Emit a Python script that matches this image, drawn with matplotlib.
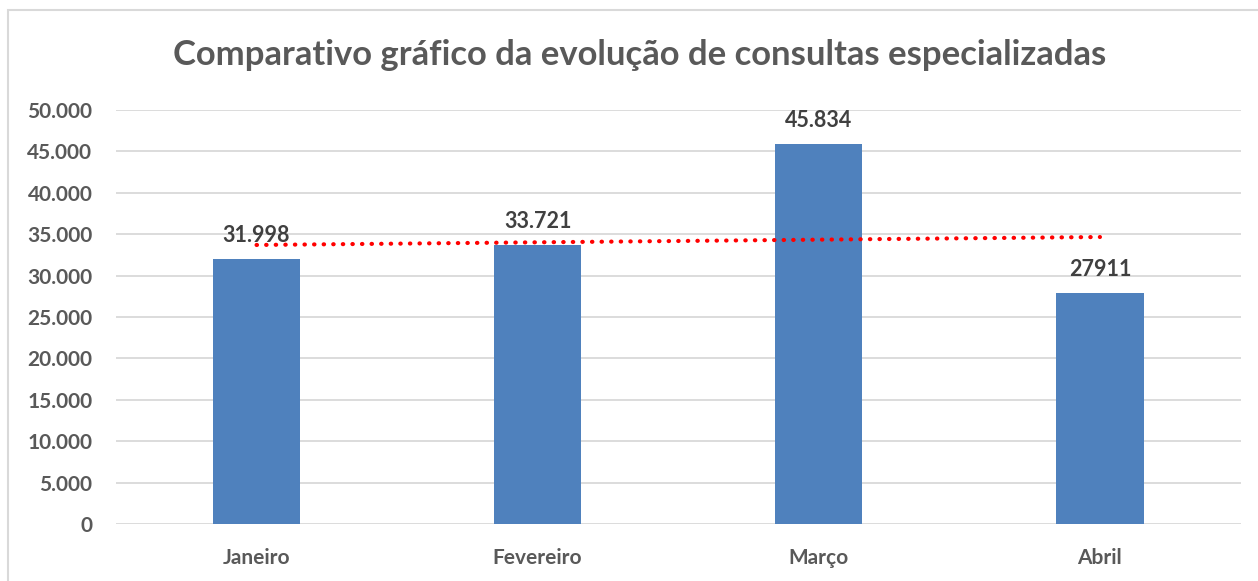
# bar chart of specialized consultations per month, with dotted trend line
import matplotlib.pyplot as plt
from matplotlib.patches import Rectangle
from matplotlib.ticker import FuncFormatter

months = ['Janeiro', 'Fevereiro', 'Março', 'Abril']
consultas = [31998, 33721, 45834, 27911]
labels = ['31.998', '33.721', '45.834', '27911']
# trend line (start at Janeiro, end at Abril)
trend_start = 33700
trend_end = 34660

plt.rcParams['font.family'] = ['Lato', 'DejaVu Sans']

fig = plt.figure(figsize=(12.58, 5.81), dpi=100)
ax = fig.add_axes([116/1258, 1-524/581, (1240.5-116)/1258, (524-110)/581])

x = range(len(months))
ax.bar(x, consultas, width=0.31, color='#4f81bd', zorder=2)

# trend line
ax.plot([0, 3], [trend_start, trend_end], color='#ff0000', linestyle=(0, (0.1, 2.2)),
        linewidth=3, dash_capstyle='round', zorder=3)

# data labels
for i in x:
	ax.annotate(labels[i], (i, consultas[i]), xytext=(0, 17), textcoords='offset points',
	            ha='center', va='center', fontsize=15.5, fontweight='bold', color='#404040')

ax.set_xlim(-0.5, 3.5)
ax.set_ylim(0, 50000)
ax.set_yticks(range(0, 50001, 5000))
ax.yaxis.set_major_formatter(FuncFormatter(lambda v, p: f'{int(v):,}'.replace(',', '.')))
ax.set_xticks(list(x))
ax.set_xticklabels(months)
ax.grid(axis='y', color='#d9d9d9', linewidth=1.3, zorder=0)
ax.set_axisbelow(True)
for s in ax.spines.values():
	s.set_visible(False)
ax.tick_params(length=0, labelsize=15, labelcolor='#595959')
ax.tick_params(axis='x', pad=17)
ax.tick_params(axis='y', pad=17)
for t in ax.get_xticklabels() + ax.get_yticklabels():
	t.set_fontweight('bold')

fig.text(640/1258, 1-55/581, 'Comparativo gráfico da evolução de consultas especializadas',
         ha='center', va='center', fontsize=24.9, fontweight='bold', color='#595959')

# chart area border
fig.patches.append(Rectangle((8/1258, -0.1), 1.1, 1.1-10/581, transform=fig.transFigure,
                             fill=False, edgecolor='#d9d9d9', linewidth=1.5))

fig.savefig('out.png', dpi=100)
